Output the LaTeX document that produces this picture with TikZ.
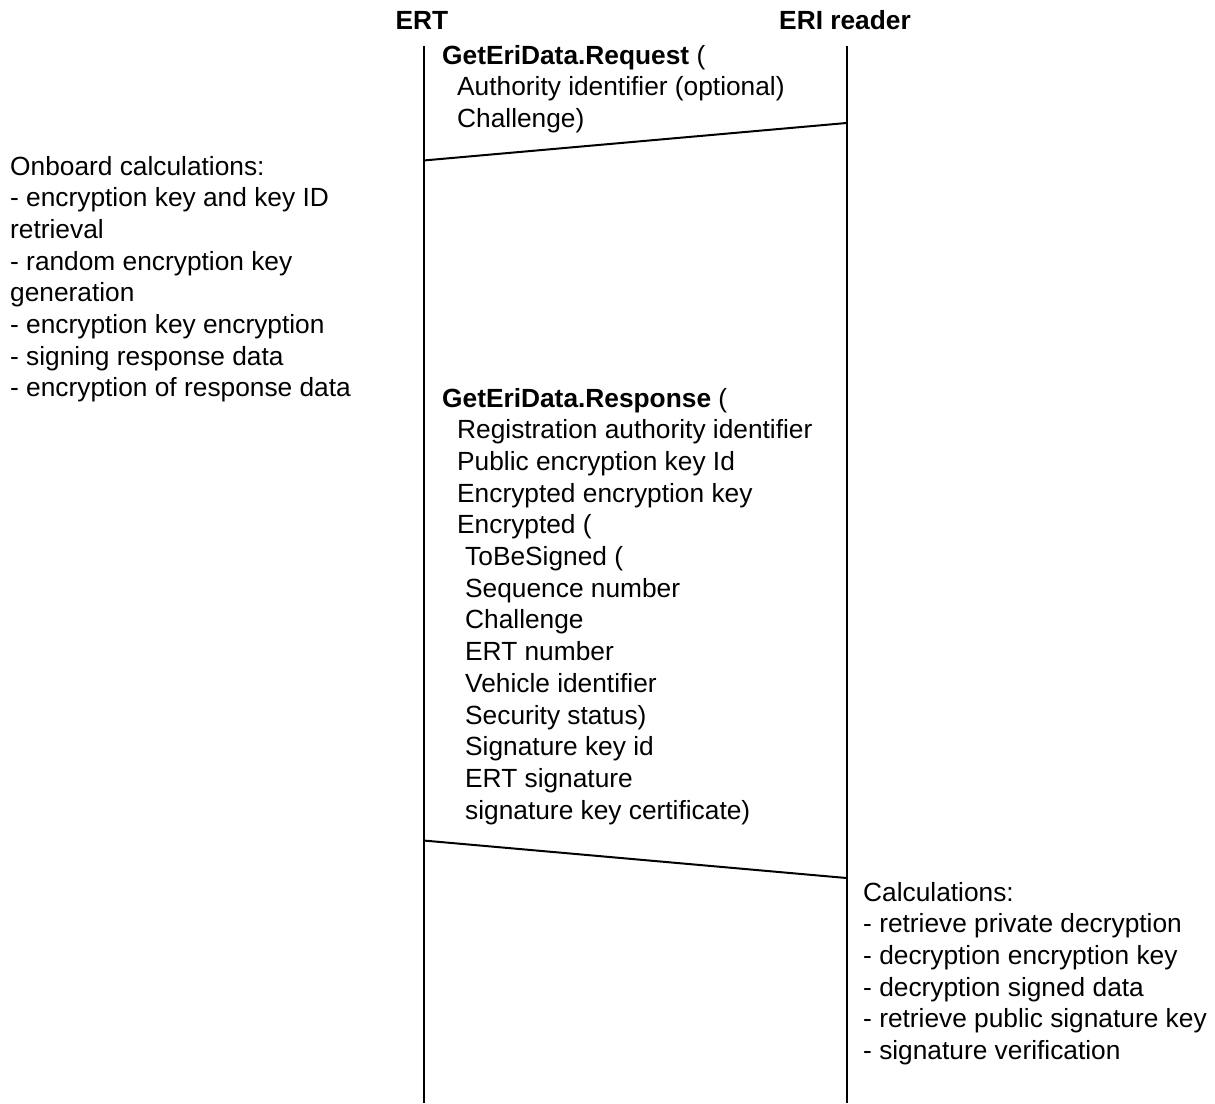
\documentclass[tikz,border=0pt]{standalone}
\usepackage{fontspec}
\setmainfont{Liberation Sans}
\newcommand\indA{\hspace*{15pt}}
\newcommand\indB{\hspace*{23pt}}
\begin{document}
% multi-line text nodes are placed by the baseline of their last line
\begin{tikzpicture}[x=1pt,y=-1pt,
  lifeline/.style={line width=2pt},
  msg/.style={line width=2pt},
  txt/.style={font=\fontsize{26.3}{31.7}\selectfont, inner sep=0pt, align=left, anchor=base west},
  head/.style={font=\fontsize{26.3}{31.7}\selectfont\bfseries, inner sep=0pt, anchor=base}]
\useasboundingbox (0,0) rectangle (1215,1103);

% participants
\node[head] (ert) at (422,29) {ERT};
\node[head] (eri) at (845,29) {ERI reader};

% lifelines
\coordinate (ertTop) at (423.5,46);
\coordinate (ertBot) at (423.5,1103);
\coordinate (eriTop) at (846.5,46);
\coordinate (eriBot) at (846.5,1103);
\draw[lifeline] (ertTop) -- (ertBot);
\draw[lifeline] (eriTop) -- (eriBot);

% request message
\coordinate (reqFrom) at (846.5,123);
\coordinate (reqTo) at (423.5,160.5);
\draw[msg] (reqFrom) -- (reqTo);
\node[txt] (req) at (442,127.4) {\textbf{GetEriData.Request} (\\
\indA Authority identifier (optional)\\
\indA Challenge)};

% onboard calculations
\node[txt] (onboard) at (10,396.9) {Onboard calculations:\\
- encryption key and key ID\\
retrieval\\
- random encryption key\\
generation\\
- encryption key encryption\\
- signing response data\\
- encryption of response data};

% response message
\node[txt] (resp) at (442,819.1) {\textbf{GetEriData.Response} (\\
\indA Registration authority identifier\\
\indA Public encryption key Id\\
\indA Encrypted encryption key\\
\indA Encrypted (\\
\indB ToBeSigned (\\
\indB Sequence number\\
\indB Challenge\\
\indB ERT number\\
\indB Vehicle identifier\\
\indB Security status)\\
\indB Signature key id\\
\indB ERT signature\\
\indB signature key certificate)};
\coordinate (respFrom) at (423.5,840.5);
\coordinate (respTo) at (846.5,878);
\draw[msg] (respFrom) -- (respTo);

% reader calculations
\node[txt] (calc) at (863,1059.5) {Calculations:\\
- retrieve private decryption\\
- decryption encryption key\\
- decryption signed data\\
- retrieve public signature key\\
- signature verification};
\end{tikzpicture}
\end{document}
